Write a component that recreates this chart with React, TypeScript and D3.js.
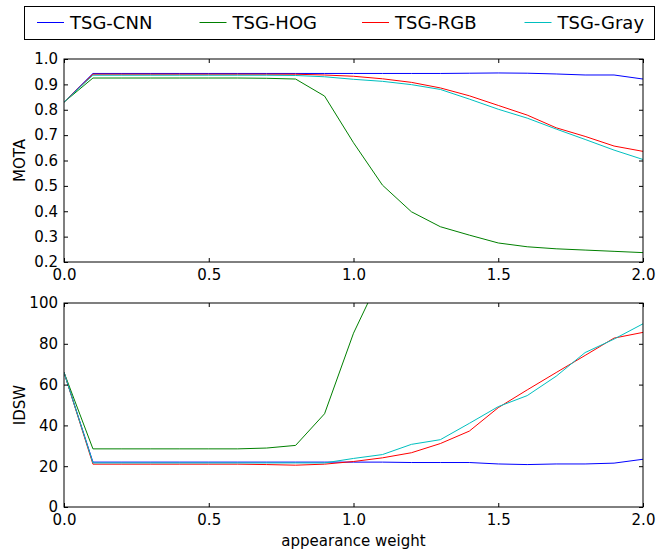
import * as d3 from 'd3'
import { useRef, useEffect } from 'react'

const weights = [0, 0.1, 0.2, 0.3, 0.4, 0.5, 0.6, 0.7, 0.8, 0.9, 1.0, 1.1, 1.2, 1.3, 1.4, 1.5, 1.6, 1.7, 1.8, 1.9, 2.0]

const seriesNames = ['TSG-CNN', 'TSG-HOG', 'TSG-RGB', 'TSG-Gray']
const seriesColors = ['#0000ff', '#008000', '#ff0000', '#00bfbf']

const motaCNN = [0.83, 0.943, 0.943, 0.943, 0.943, 0.943, 0.943, 0.943, 0.943, 0.943, 0.943, 0.943, 0.943, 0.943, 0.944, 0.945, 0.944, 0.941, 0.937, 0.937, 0.921]
const motaHOG = [0.83, 0.925, 0.925, 0.925, 0.925, 0.925, 0.925, 0.924, 0.921, 0.854, 0.67, 0.503, 0.398, 0.339, 0.306, 0.275, 0.26, 0.252, 0.247, 0.242, 0.237]
const motaRGB = [0.83, 0.94, 0.94, 0.94, 0.94, 0.94, 0.94, 0.94, 0.94, 0.937, 0.932, 0.922, 0.908, 0.886, 0.855, 0.817, 0.779, 0.729, 0.695, 0.657, 0.636]
const motaGray = [0.83, 0.936, 0.936, 0.936, 0.936, 0.936, 0.936, 0.936, 0.935, 0.93, 0.92, 0.912, 0.899, 0.88, 0.842, 0.802, 0.767, 0.724, 0.683, 0.641, 0.604]

const idswCNN = [66, 22, 22, 22, 22, 22, 22, 22, 22, 22, 22, 22, 21.8, 21.8, 21.8, 21.1, 20.8, 21.1, 21.1, 21.5, 23.4]
const idswHOG = [66, 28.5, 28.5, 28.5, 28.5, 28.5, 28.5, 28.9, 30.2, 45.7, 85.2, 115, 138, 156, 170, 182, 190, 196, 201, 205, 208]
const idswRGB = [66, 21, 21, 21, 21, 21, 21, 20.8, 20.5, 21, 22.3, 24.1, 26.6, 31.1, 37.2, 48.7, 57.4, 65.9, 74.3, 82.8, 85.6]
const idswGray = [66, 21.6, 21.6, 21.6, 21.6, 21.6, 21.6, 21.6, 21.6, 21.6, 23.8, 25.7, 30.7, 33, 41, 49.2, 54.6, 64.1, 75.7, 82.3, 89.8]

const xTicks = [0, 0.5, 1, 1.5, 2]
const motaTicks = [0.2, 0.3, 0.4, 0.5, 0.6, 0.7, 0.8, 0.9, 1.0]
const idswTicks = [0, 20, 40, 60, 80, 100]

const FONT = 'DejaVu Sans, sans-serif'

const Chart = () => {
  const ref = useRef<SVGSVGElement>(null)

  useEffect(() => {
    drawChart()
  }, [])

  const drawChart = () => {
    const svg = d3.select(ref.current)
    svg.selectAll('*').remove()

    const left = 64
    const right = 643
    const x = d3.scaleLinear().domain([0, 2]).range([left, right])

    const panel = (
      top: number,
      bottom: number,
      domain: [number, number],
      ticks: number[],
      fmt: (d: number) => string,
      label: string,
      series: number[][],
      id: string
    ) => {
      const y = d3.scaleLinear().domain(domain).range([bottom, top])
      const g = svg.append('g')

      g.append('clipPath')
        .attr('id', id)
        .append('rect')
        .attr('x', left)
        .attr('y', top)
        .attr('width', right - left)
        .attr('height', bottom - top)

      const line = d3
        .line<number>()
        .x((d, i) => x(weights[i]))
        .y((d) => y(d))

      g.append('g')
        .attr('clip-path', 'url(#' + id + ')')
        .selectAll('path')
        .data(series)
        .enter()
        .append('path')
        .attr('d', (d) => line(d))
        .attr('fill', 'none')
        .attr('stroke', (d, i) => seriesColors[i])
        .attr('stroke-width', 1)

      const styleAxis = (a: any) => {
        a.select('.domain').remove()
        a.selectAll('line').attr('stroke', '#000')
        a.selectAll('text').attr('font-family', FONT).attr('font-size', 15).attr('fill', '#000')
      }

      g.append('g')
        .attr('transform', 'translate(' + left + ',0)')
        .call(d3.axisLeft(y).tickValues(ticks).tickFormat(fmt as any).tickSizeInner(-4).tickSizeOuter(0).tickPadding(6))
        .call(styleAxis)
      g.append('g')
        .attr('transform', 'translate(' + right + ',0)')
        .call(d3.axisRight(y).tickValues(ticks).tickFormat(() => '').tickSizeInner(-4).tickSizeOuter(0))
        .call(styleAxis)
      g.append('g')
        .attr('transform', 'translate(0,' + bottom + ')')
        .call(d3.axisBottom(x).tickValues(xTicks).tickFormat(d3.format('.1f') as any).tickSizeInner(-4).tickSizeOuter(0).tickPadding(7))
        .call(styleAxis)
      g.append('g')
        .attr('transform', 'translate(0,' + top + ')')
        .call(d3.axisTop(x).tickValues(xTicks).tickFormat(() => '').tickSizeInner(-4).tickSizeOuter(0))
        .call(styleAxis)

      g.append('rect')
        .attr('x', left)
        .attr('y', top)
        .attr('width', right - left)
        .attr('height', bottom - top)
        .attr('fill', 'none')
        .attr('stroke', '#000')
        .attr('stroke-width', 1)

      g.append('text')
        .attr('transform', 'translate(25,' + (top + bottom) / 2 + ') rotate(-90)')
        .attr('text-anchor', 'middle')
        .attr('font-family', FONT)
        .attr('font-size', 15)
        .text(label)
    }

    panel(59, 262, [0.2, 1.0], motaTicks, d3.format('.1f'), 'MOTA', [motaCNN, motaHOG, motaRGB, motaGray], 'clip-mota')
    panel(303, 507, [0, 100], idswTicks, d3.format('d'), 'IDSW', [idswCNN, idswHOG, idswRGB, idswGray], 'clip-idsw')

    svg.append('text')
      .attr('x', (left + right) / 2)
      .attr('y', 546)
      .attr('text-anchor', 'middle')
      .attr('font-family', FONT)
      .attr('font-size', 15)
      .text('appearance weight')

    // legend across the top
    const legend = svg.append('g')
    legend.append('rect')
      .attr('x', 24.5)
      .attr('y', 6.5)
      .attr('width', 630)
      .attr('height', 33)
      .attr('fill', '#fff')
      .attr('stroke', '#000')
    const item = legend
      .selectAll('g.item')
      .data(seriesNames)
      .enter()
      .append('g')
      .attr('class', 'item')
      .attr('transform', (d, i) => 'translate(' + (37 + i * 162.5) + ',0)')
    item.append('line')
      .attr('x1', 0)
      .attr('x2', 27)
      .attr('y1', 22.5)
      .attr('y2', 22.5)
      .attr('stroke', (d, i) => seriesColors[i])
    item.append('text')
      .attr('x', 33)
      .attr('y', 29)
      .attr('font-family', FONT)
      .attr('font-size', 18)
      .text((d) => d)
  }

  return <svg ref={ref} width={657} height={550} style={{ position: 'absolute', left: 0, top: 0, background: '#fff' }}></svg>
}

export default function App() {
  return <Chart />
}
